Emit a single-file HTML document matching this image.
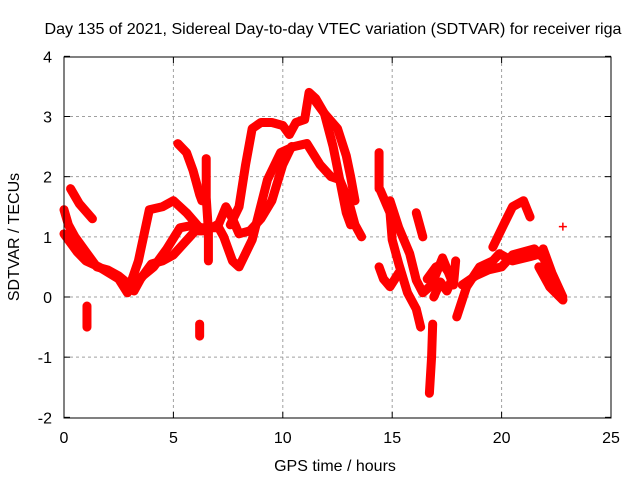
<!DOCTYPE html>
<html><head><meta charset="utf-8"><style>
body{margin:0;background:#fff;}
svg{display:block;font-family:"Liberation Sans",sans-serif;}
</style></head><body>
<svg id="chart" width="640" height="480" viewBox="0 0 640 480" xmlns="http://www.w3.org/2000/svg">
<rect width="640" height="480" fill="#fff"/>
<text x="333" y="34" font-size="16" text-anchor="middle" textLength="577" lengthAdjust="spacingAndGlyphs">Day 135 of 2021, Sidereal Day-to-day VTEC variation (SDTVAR) for receiver riga</text>
<text x="335" y="471" font-size="16" text-anchor="middle">GPS time / hours</text>
<text transform="translate(19,237) rotate(-90)" font-size="16" text-anchor="middle">SDTVAR / TECUs</text>
<g id="grid"></g><g id="ticks"></g><g id="marks"></g>
<rect x="64" y="57" width="547" height="361" fill="none" stroke="#000" stroke-width="1"/>
</svg>
<script>
const xTicks=[0,5,10,15,20,25];
const yTicks=[-2,-1,0,1,2,3,4];
const track1=[[0,1.45],[0.2,1.2],[0.5,1.0],[1,0.75],[1.5,0.5],[2,0.45],[2.5,0.35],[3,0.2],[3.2,0.1],[3.5,0.3],[4,0.55],[4.5,0.6],[5,0.7],[5.5,0.9],[6,1.1],[6.5,1.1],[7,1.2],[7.3,1.0],[7.7,0.6],[8,0.5],[8.6,0.95],[9.3,1.95],[9.9,2.4],[10.5,2.5],[11.1,2.55],[11.7,2.2],[12.2,2.0],[12.6,1.95],[13,1.6],[13.3,1.2],[13.6,1.0]];
const track2=[[7.6,1.2],[8,1.5],[8.3,2.2],[8.6,2.8],[9,2.9],[9.5,2.9],[10,2.85],[10.3,2.7],[10.6,2.9],[11,2.95],[11.2,3.4],[11.5,3.3],[11.9,3.05],[12.3,2.5],[12.6,1.95],[12.9,1.4],[13.1,1.2]];
const track3=[[11.4,3.3],[11.9,3.05],[12.5,2.8],[12.9,2.35],[13.1,2.0],[13.3,1.6]];
const track4=[[0,1.05],[0.3,0.9],[0.6,0.75],[1,0.6],[1.6,0.5],[2.5,0.3],[2.9,0.07],[3.4,0.6],[3.9,1.45],[4.5,1.5],[5,1.6],[5.6,1.4],[6.2,1.15],[7,1.15],[7.4,1.5],[7.7,1.3],[8,1.05],[8.5,1.1],[9,1.3],[9.5,1.6],[10,2.2],[10.4,2.5]];
const track5=[[3.2,0.2],[3.6,0.35],[4.1,0.5],[4.7,0.8],[5.3,1.15],[6,1.2],[6.5,1.1]];
const track6=[[0.3,1.8],[0.7,1.55],[1.3,1.3]];
const track7=[[5.2,2.55],[5.6,2.4],[5.9,2.1],[6.2,1.7],[6.3,1.6]];
const track8=[[6.5,2.3],[6.5,1.9],[6.5,1.65],[6.6,1.1],[6.6,0.6]];
const track9=[[14.4,2.4],[14.4,1.8],[14.45,1.78],[14.9,1.4],[15,0.95],[15.3,0.55],[15.7,0.07],[16.1,-0.2],[16.3,-0.5]];
const track10=[[14.9,1.6],[15.3,1.15],[15.8,0.72],[16.1,0.28],[16.4,0.07],[16.8,0.2],[17.3,0.65],[17.8,0.2],[17.9,0.6]];
const track11=[[14.4,0.5],[14.6,0.3],[14.9,0.17],[15.3,0.4]];
const track12=[[16.1,1.4],[16.4,1.0]];
const track13=[[16.85,-0.45],[16.8,-1.0],[16.7,-1.6]];
const track14=[[17.95,-0.33],[18.4,0.17],[19,0.5],[19.6,0.6],[19.9,0.72],[20.5,0.6],[21.3,0.67],[21.9,0.73],[22.2,0.17],[22.8,-0.05]];
const track15=[[19.6,0.83],[20.2,1.28],[20.5,1.5],[21,1.6],[21.3,1.33]];
const track16=[[21.7,0.5],[22.2,0.17],[22.8,-0.05]];
const track17=[[1.05,-0.15],[1.05,-0.5]];
const track18=[[6.2,-0.45],[6.2,-0.65]];
const track19=[[22.8,1.17]];
const track20=[[16.6,0.3],[17,0.5],[17.3,0.55],[17.6,0.4]];
const track21=[[18.2,0.2],[18.8,0.35],[19.4,0.45],[20,0.5],[20.5,0.7],[21.5,0.8],[21.9,0.65]];
const track22=[[21.9,0.8],[22.3,0.4],[22.8,0.0]];
const track23=[[16.9,0.0],[17.2,0.25],[17.5,0.1],[17.8,0.35]];
const tracks=[track1,track2,track3,track4,track5,track6,track7,track8,track9,track10,track11,track12,track13,track14,track15,track16,track17,track18,track19,track20,track21,track22,track23];
const NS="http://www.w3.org/2000/svg";
function xs(h){return 64+h*21.88;}
function ys(v){return 297-v*60.17;}
const grid=document.getElementById('grid'),ticks=document.getElementById('ticks'),marks=document.getElementById('marks');
function mk(tag,at,par){const e=document.createElementNS(NS,tag);for(const k in at)e.setAttribute(k,at[k]);par.appendChild(e);return e;}
xTicks.forEach(t=>{const x=xs(t);
 if(t>0&&t<25){const g=mk('line',{x1:x,y1:57,x2:x,y2:418,stroke:'#a0a0a0','stroke-dasharray':'3,3'},grid);
 
 }
 mk('line',{x1:x,y1:418,x2:x,y2:412,stroke:'#000'},ticks);mk('line',{x1:x,y1:57,x2:x,y2:63,stroke:'#000'},ticks);
 const l=mk('text',{x:x,y:443,'font-size':16,'text-anchor':'middle'},ticks);l.textContent=t;
 
 });
yTicks.forEach(t=>{const y=ys(t);
 if(t>-2&&t<4){const g=mk('line',{x1:64,y1:y,x2:611,y2:y,stroke:'#a0a0a0','stroke-dasharray':'3,3'},grid);
 
 }
 mk('line',{x1:64,y1:y,x2:70,y2:y,stroke:'#000'},ticks);mk('line',{x1:611,y1:y,x2:605,y2:y,stroke:'#000'},ticks);
 const l=mk('text',{x:52,y:y+6,'font-size':16,'text-anchor':'end'},ticks);l.textContent=t;
 
 });
tracks.forEach((tr,i)=>{
 const g=mk('g',{},marks);
 
 
 if(tr.length>1){mk('polyline',{points:tr.map(p=>xs(p[0])+','+ys(p[1])).join(' '),fill:'none',stroke:'#f00','stroke-width':9,'stroke-linejoin':'round','stroke-linecap':'round'},g);}
 tr.forEach(p=>{const x=xs(p[0]),y=ys(p[1]);
  mk('path',{d:`M${x-4},${y}H${x+4}M${x},${y-4}V${y+4}`,stroke:'#f00','stroke-width':1.5},g);});
});
</script>
</body></html>
